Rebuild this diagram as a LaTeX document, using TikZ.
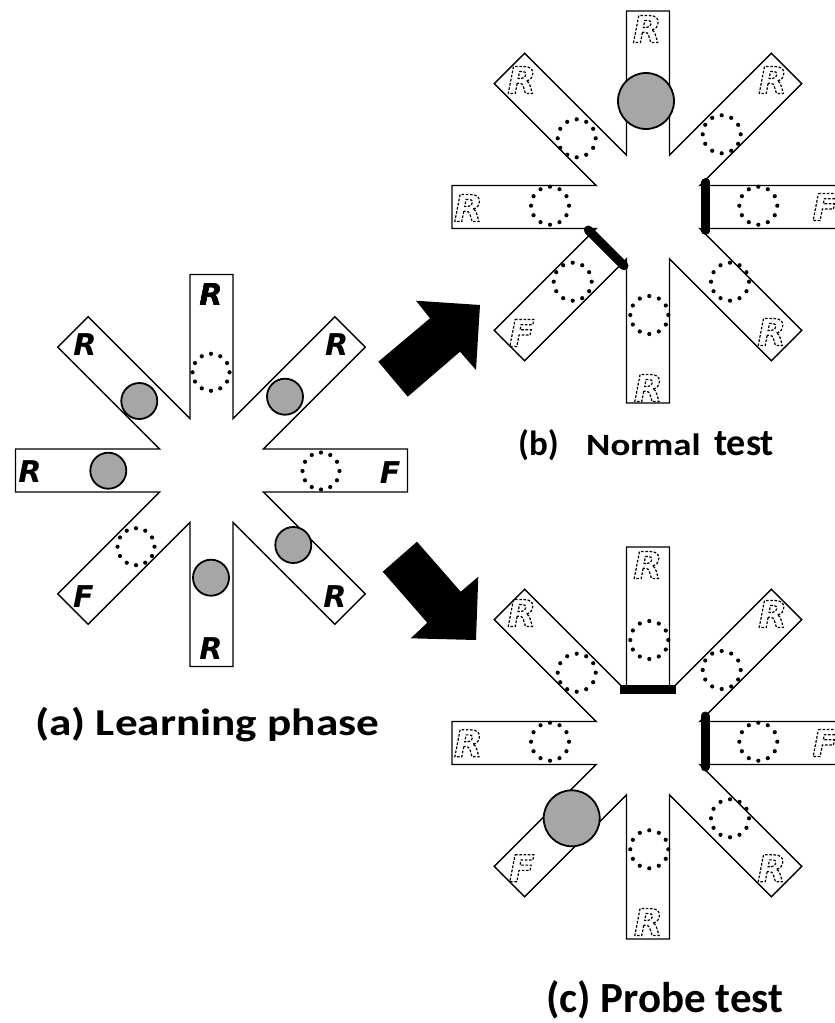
\documentclass[tikz,border=0pt]{standalone}
\usepackage{graphicx}
\usepackage{fontspec}
\setmainfont{Carlito}
\newfontfamily\armfont{DejaVu Sans}
\definecolor{ballgray}{RGB}{166,166,166}

% outlined letter with a dashed stroke (text render mode 1)
\newcommand\hollowtext[1]{\special{pdf:code 1 Tr 1.2 w [2.6 1.6] 0 d}#1\special{pdf:code 0 Tr [] 0 d}}

% eight-arm radial maze centred at (#1,#2)
\newcommand\radialmaze[2]{%
  \begin{scope}[shift={(#1,#2)}]
    \draw[mazewall] (-22.5:56.2)
      \foreach \a in {0,45,...,315}{
        -- ({196*cos(\a)+21.5*sin(\a)},{196*sin(\a)-21.5*cos(\a)})
        -- ({196*cos(\a)-21.5*sin(\a)},{196*sin(\a)+21.5*cos(\a)})
        -- ({\a+22.5}:56.2)} -- cycle;
  \end{scope}}

% ring of twelve dots of radius #3 centred at (#1,#2): an empty bait cup
\newcommand\baitring[3]{%
  \foreach \t in {0,30,...,330}
    \fill[black] (#1,#2) ++(\t:#3) circle (2.1);}

\begin{document}
\begin{tikzpicture}[x=1pt,y=-1pt,
  mazewall/.style={draw=black,line width=1.4,fill=white,line join=miter},
  ball/.style={draw=black,line width=1.8,fill=ballgray},
  solidletter/.style={inner sep=0,font=\armfont\bfseries\itshape\fontsize{30}{30}\selectfont},
  hollowletter/.style={inner sep=0,font=\armfont\bfseries\itshape\fontsize{37}{37}\selectfont},
  doorbar/.style={line width=9,line cap=round},
  bigarrow/.style={fill=black},
  caption/.style={inner sep=0,anchor=base west,font=\bfseries}]
\clip (0,0) rectangle (835,1023);
\fill[white] (0,0) rectangle (835,1023);

% ---------- (a) learning phase ----------
\radialmaze{211.5}{470.5}
\foreach \x/\y in {285/396.7, 293.3/545, 211/577.7, 108.3/470.7, 139.3/401}
  \draw[ball] (\x,\y) circle (18);
\foreach \x/\y in {211/372.3, 321/471, 136/546.7}
  \baitring{\x}{\y}{18.5}
\node[solidletter] (aN)  at (211,295)   {R};
\node[solidletter] (aNW) at (85,345)    {R};
\node[solidletter] (aNE) at (336.7,345) {R};
\node[solidletter] (aW)  at (30,471.7)  {R};
\node[solidletter] (aE)  at (390,473)   {F};
\node[solidletter] (aSW) at (83.3,596.7) {F};
\node[solidletter] (aS)  at (211,648.3) {R};
\node[solidletter] (aSE) at (335,596.7) {R};

% ---------- (b) normal test ----------
\radialmaze{648}{207}
\draw[ball] (646,101) circle (28);
\foreach \x/\y in {576.7/138.3, 721.7/134.3, 550/205.7, 758.3/205.7, 572.7/281.7, 649.3/315, 730/281.7}
  \baitring{\x}{\y}{19}
\draw[doorbar] (705.7,183) -- (705.7,230);
\draw[doorbar] (588.3,230) -- (624,265.7);
\node[hollowletter] (bN)  at (647,29)      {\hollowtext{R}};
\node[hollowletter] (bNW) at (521.7,80)    {\hollowtext{R}};
\node[hollowletter] (bNE) at (772.7,80)    {\hollowtext{R}};
\node[hollowletter] (bW)  at (468.3,208)   {\hollowtext{R}};
\node[hollowletter] (bE)  at (825,207)     {\hollowtext{F}};
\node[hollowletter] (bSW) at (521.7,333)   {\hollowtext{F}};
\node[hollowletter] (bSE) at (771.7,332)   {\hollowtext{R}};
\node[hollowletter] (bS)  at (648.3,388)   {\hollowtext{R}};

% ---------- (c) probe test ----------
\radialmaze{648}{743}
\draw[ball] (571.7,818.3) circle (28);
\foreach \x/\y in {649.3/640, 576.7/672.7, 721.7/670, 550/741.7, 758.3/741.7, 649.3/849.3, 730/818.3}
  \baitring{\x}{\y}{19}
\fill (620,684.5) rectangle (676,694);
\draw[doorbar] (705,716) -- (705,767);
\node[hollowletter] (cN)  at (647.7,565)   {\hollowtext{R}};
\node[hollowletter] (cNW) at (521.7,613)   {\hollowtext{R}};
\node[hollowletter] (cNE) at (772.7,614)   {\hollowtext{R}};
\node[hollowletter] (cW)  at (468.3,743.3) {\hollowtext{R}};
\node[hollowletter] (cE)  at (825,743)     {\hollowtext{F}};
\node[hollowletter] (cSW) at (521.7,868.3) {\hollowtext{F}};
\node[hollowletter] (cSE) at (771.7,868.3) {\hollowtext{R}};
\node[hollowletter] (cS)  at (648.3,922)   {\hollowtext{R}};

% ---------- block arrows from (a) to (b) and (c) ----------
\fill[bigarrow] (378.3,361.7) -- (430,318.3) -- (416,300.7) -- (480,305)
  -- (476,370) -- (460,351.7) -- (407.7,396.7) -- cycle;
\fill[bigarrow] (382.7,571.7) -- (417,541.7) -- (460.7,591.7) -- (478.3,576.7)
  -- (476,640) -- (410.7,638.3) -- (427.3,622.7) -- cycle;

% ---------- captions ----------
\node[caption,font=\bfseries\fontsize{38}{38}\selectfont] (capA) at (35,735)
  {\scalebox{1.19}[1]{(a) Learning phase}};
\node[caption,font=\bfseries\fontsize{35}{35}\selectfont] (capBtag) at (518,455) {(b)};
\node[caption,font=\bfseries\fontsize{31}{31}\selectfont] (capBword) at (586,455)
  {\scalebox{1.19}[1]{Normal}};
\node[caption,font=\bfseries\fontsize{38}{38}\selectfont] (capBtest) at (714,455) {test};
\node[caption,font=\bfseries\fontsize{43}{43}\selectfont] (capC) at (546,1012) {(c) Probe test};
\end{tikzpicture}
\end{document}
